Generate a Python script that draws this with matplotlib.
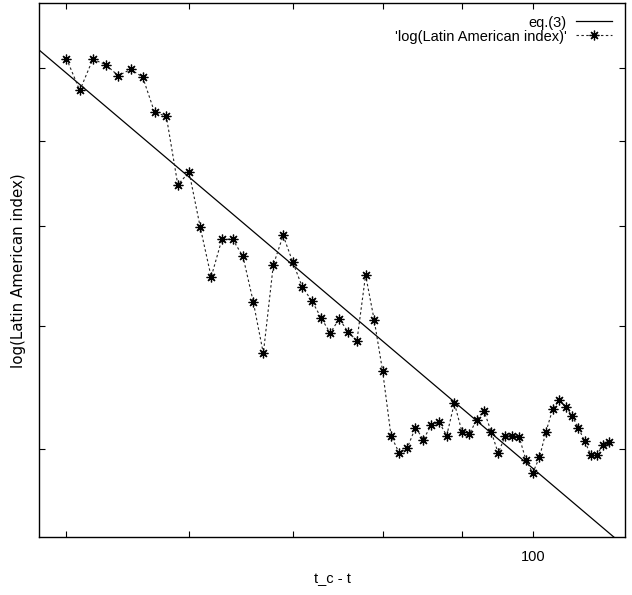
import numpy as np
import matplotlib
matplotlib.use("Agg")
import matplotlib.pyplot as plt
from matplotlib.ticker import FixedLocator, FixedFormatter, NullLocator

# t_c - t (weeks) and the log of the index
t = list(range(50, 113))
log_index = [8.14, 7.68, 8.13, 8.05, 7.89, 7.98, 7.87, 7.38, 7.33, 6.47,
             6.62, 5.99, 5.47, 5.86, 5.86, 5.68, 5.23, 4.76, 5.59, 5.90,
             5.62, 5.37, 5.24, 5.08, 4.94, 5.07, 4.95, 4.87, 5.49, 5.06,
             4.61, 4.10, 3.97, 4.01, 4.16, 4.07, 4.18, 4.20, 4.10, 4.35,
             4.13, 4.11, 4.22, 4.29, 4.13, 3.97, 4.10, 4.10, 4.09, 3.92,
             3.83, 3.94, 4.13, 4.30, 4.37, 4.32, 4.25, 4.16, 4.06, 3.96,
             3.96, 4.03, 4.05]

# eq.(3): power law fit
fit_amp = 458.0
fit_exp = 1.037

xticks = [50, 60, 70, 80, 90, 100]
xtick_labels = ['', '', '', '', '', '100']
yticks = [4, 5, 6, 7, 8]

narrow = ['Liberation Sans Narrow', 'Liberation Sans', 'DejaVu Sans']

fig = plt.figure(figsize=(6.32, 5.95), dpi=100)
ax = fig.add_axes([39/632, 1-537.3/595, (625-39)/632, (537.3-3.3)/595])

xf = np.linspace(47, 116, 200)
ax.plot(xf, fit_amp * xf**(-fit_exp), color='black', lw=0.9, label='eq.(3)')
ax.plot(t, log_index, color='#222222', lw=0.8, ls=(0, (2.2, 2.2)),
        marker=(8, 2, 0), ms=7, mew=0.9, mec='black',
        label="'log(Latin American index)'")

ax.set_xscale('log')
ax.set_yscale('log')
ax.set_xlim(48.0, 114.7)
ax.set_ylim(3.407, 9.0)

ax.xaxis.set_major_locator(FixedLocator(xticks))
ax.xaxis.set_major_formatter(FixedFormatter(xtick_labels))
ax.xaxis.set_minor_locator(NullLocator())
ax.yaxis.set_major_locator(FixedLocator(yticks))
ax.yaxis.set_major_formatter(FixedFormatter(['']*len(yticks)))
ax.yaxis.set_minor_locator(NullLocator())
ax.tick_params(direction='in', length=4, width=0.8, top=True, right=True,
               pad=9)
for lab in ax.get_xticklabels():
    lab.set_family(narrow)
    lab.set_fontsize(10.5)
for s in ax.spines.values():
    s.set_linewidth(1.0)

ax.set_xlabel('t_c - t', family=narrow, fontsize=10.5, labelpad=6)
ax.set_ylabel('log(Latin American index)', family='DejaVu Sans',
              fontsize=10.8)
ax.yaxis.set_label_coords(-0.022, 0.5)

leg = ax.legend(loc='upper right', bbox_to_anchor=(0.978, 0.977),
                frameon=False, markerfirst=False, numpoints=1,
                handlelength=2.5, handletextpad=0.6, labelspacing=0.0,
                borderpad=0, borderaxespad=0,
                prop={'family': narrow, 'size': 10.5})

fig.savefig('out.png', dpi=100)
